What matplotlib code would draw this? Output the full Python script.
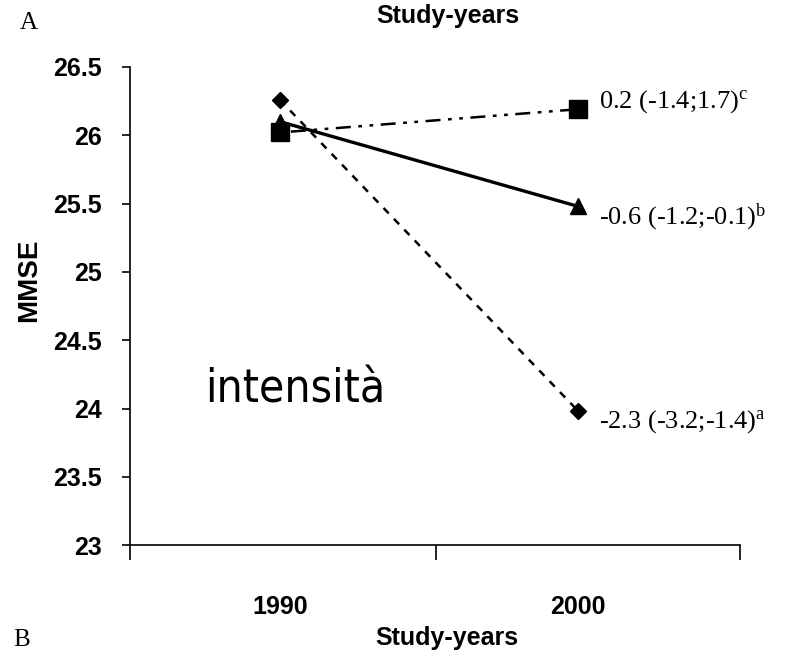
import matplotlib
matplotlib.use("Agg")
import matplotlib.pyplot as plt

years = ["1990", "2000"]
mmse_diamond = [26.26, 23.985]
mmse_triangle = [26.10, 25.48]
mmse_square = [26.02, 26.19]
change_labels = {
    "square": ("0.2 (-1.4;1.7)", "c"),
    "triangle": ("-0.6 (-1.2;-0.1)", "b"),
    "diamond": ("-2.3 (-3.2;-1.4)", "a"),
}
y_ticks = [23, 23.5, 24, 24.5, 25, 25.5, 26, 26.5]
y_tick_labels = ["23", "23.5", "24", "24.5", "25", "25.5", "26", "26.5"]

plt.rcParams["mathtext.fontset"] = "custom"
plt.rcParams["mathtext.rm"] = "Liberation Serif"
plt.rcParams["mathtext.it"] = "Liberation Serif"

fig = plt.figure(figsize=(7.87, 6.56), dpi=100)
ax = fig.add_axes([0.165, 0.169, 0.775, 0.729])

x = list(range(len(years)))
ax.plot(x, mmse_diamond, color="black", lw=1.8, ls=(0, (3, 3)),
        marker="D", ms=8, mfc="black", mec="black", zorder=3)
ax.plot(x, mmse_triangle, color="black", lw=2.4, ls="-",
        marker="^", ms=11, mfc="black", mec="black", zorder=4)
ax.plot(x, mmse_square, color="black", lw=1.8, ls=(0, (1.5, 3, 6, 3, 1.5, 3)),
        marker="s", ms=13, mfc="black", mec="black", zorder=5)

ax.set_xlim(-0.503, 1.544)
ax.set_ylim(23, 26.5)

ax.spines["top"].set_visible(False)
ax.spines["right"].set_visible(False)
for s in ("left", "bottom"):
    ax.spines[s].set_linewidth(1.2)

ax.set_yticks(y_ticks)
ax.set_yticklabels(y_tick_labels, fontfamily="Liberation Sans",
                   fontweight="bold", fontsize=18)
ax.tick_params(axis="y", direction="out", length=6, width=1.2, pad=14)

# category labels under the data, boundary ticks between categories
ax.set_xticks(x)
ax.set_xticklabels(years, fontfamily="Liberation Sans",
                   fontweight="bold", fontsize=18)
ax.tick_params(axis="x", which="major", length=0, pad=36)
ax.set_xticks([-0.503, 0.523, 1.544], minor=True)
ax.tick_params(axis="x", which="minor", direction="out", length=11, width=1.2)

ax.set_xlabel("Study-years", fontfamily="Liberation Sans",
              fontweight="bold", fontsize=18)
ax.xaxis.set_label_coords(0.52, -0.17)
ax.set_ylabel("MMSE", fontfamily="Liberation Sans",
              fontweight="bold", fontsize=20)
ax.yaxis.set_label_coords(-0.144, 0.554)

fig.text(0.569, 0.975, "Study-years", ha="center", va="center",
         fontfamily="Liberation Sans", fontweight="bold", fontsize=18)
fig.text(0.037, 0.965, "A", ha="center", va="center",
         fontfamily="Liberation Serif", fontsize=18)
fig.text(0.027, 0.024, "B", ha="center", va="center",
         fontfamily="Liberation Serif", fontsize=18)

series_end = {
    "square": mmse_square[-1],
    "triangle": mmse_triangle[-1],
    "diamond": mmse_diamond[-1],
}
offsets = {"square": 0.055, "triangle": -0.08, "diamond": -0.08}
for key, (txt, sup) in change_labels.items():
    ax.annotate(txt + r"$^{\mathrm{" + sup + "}}$",
                xy=(x[-1], series_end[key] + offsets[key]),
                xytext=(15, 0), textcoords="offset points",
                ha="left", va="center", fontfamily="Liberation Serif",
                fontsize=19, annotation_clip=False)

ax.text(0.052, 24.047, "intensità", fontfamily="DejaVu Sans",
        fontstretch="condensed", fontsize=33,
        ha="center", va="baseline", color="black")

fig.savefig("out.png", dpi=100)
